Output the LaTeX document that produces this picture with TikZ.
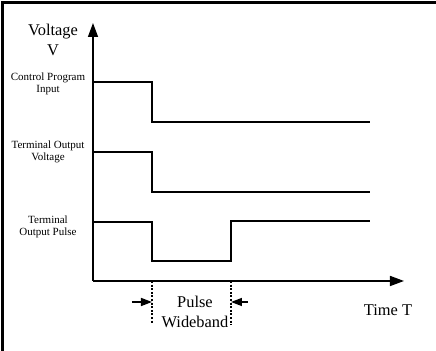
\documentclass[tikz,border=0pt]{standalone}
\usepackage{fontspec}
\setmainfont{Liberation Serif}
\usetikzlibrary{arrows.meta}
\begin{document}
\begin{tikzpicture}[x=0.5pt,y=-0.5pt,
  sig/.style={line width=0.75pt},
  axis/.style={line width=0.75pt,-{Triangle[length=7pt,width=5pt]}},
  big/.style={font=\fontsize{8.2pt}{9.6pt}\selectfont,align=center,inner sep=0pt},
  small/.style={font=\fontsize{5.5pt}{6.3pt}\selectfont,align=center,inner sep=0pt},
  dotline/.style={line width=0.75pt,dash pattern=on 1pt off 0.8pt},
  pw/.style={line width=0.75pt,-{Triangle[length=5.5pt,width=4pt]}}]
\useasboundingbox (0,0) rectangle (436,351);
\clip (0,0) rectangle (436,351);
\draw[line width=1.5pt] (3,3) rectangle (445,360);
% axes
\coordinate (O) at (93,281);
\coordinate (ytop) at (93,23);
\coordinate (xend) at (404,281);
\draw[axis] (O) -- (ytop);
\draw[axis] (O) -- (xend);
% signals
\draw[sig] (93,82) -- (152,82) -- (152,122) -- (370,122);
\draw[sig] (93,152) -- (152,152) -- (152,192) -- (370,192);
\draw[sig] (93,222) -- (152,222) -- (152,261) -- (231,261) -- (231,221) -- (370,221);
% labels
\node[big] (vl) at (53,40) {Voltage\\V};
\node[small] (l1) at (48,84) {Control Program\\Input};
\node[small] (l2) at (48,152) {Terminal Output\\Voltage};
\node[small] (l3) at (48,227) {Terminal\\Output Pulse};
\node[big] (tt) at (388,310) {Time T};
\node[big] (pwl) at (195,312) {Pulse\\Wideband};
% pulse width markers
\coordinate (d1a) at (152,281);
\coordinate (d1b) at (152,324);
\coordinate (d2a) at (231,281);
\coordinate (d2b) at (231,325);
\draw[dotline] (d1a) -- (d1b);
\draw[dotline] (d2a) -- (d2b);
\coordinate (a1) at (132,302);
\coordinate (a1e) at (152,302);
\coordinate (a2) at (248,302);
\coordinate (a2e) at (231,302);
\draw[pw] (a1) -- (a1e);
\draw[pw] (a2) -- (a2e);
\end{tikzpicture}
\end{document}
